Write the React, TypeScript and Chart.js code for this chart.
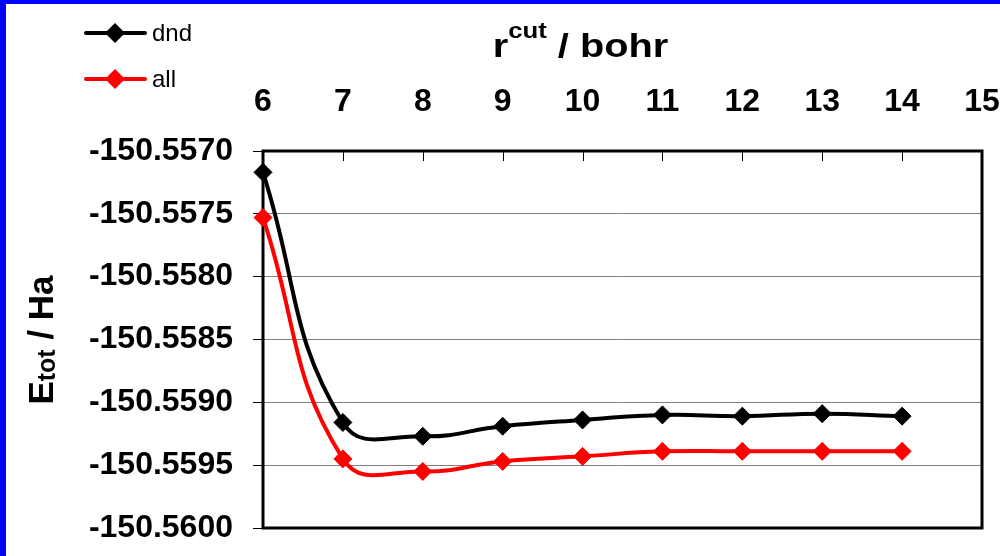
import React, { useEffect, useRef } from 'react';
import { Chart, registerables } from 'chart.js';

Chart.register(...registerables);

// ---- data ----
const rCut = [6, 7, 8, 9, 10, 11, 12, 13, 14];
const dndEnergy = [-150.55717, -150.55916, -150.55927, -150.55919, -150.55914, -150.5591, -150.55911, -150.55909, -150.55911];
const allEnergy = [-150.55753, -150.55945, -150.55955, -150.55947, -150.55943, -150.55939, -150.55939, -150.55939, -150.55939];
const seriesNames = ['dnd', 'all'];
const seriesColors = ['#000000', '#FF0000'];
const xTickValues = [6, 7, 8, 9, 10, 11, 12, 13, 14, 15];
const yTickValues = [-150.56, -150.5595, -150.559, -150.5585, -150.558, -150.5575, -150.557];
const xTitleMain = 'r';
const xTitleSup = 'cut';
const xTitleRest = ' / bohr';
const yTitleMain = 'E';
const yTitleSub = 'tot';
const yTitleRest = ' / Ha';

const FONT = '"Liberation Sans", Arial, Helvetica, sans-serif';

const decorPlugin = {
  id: 'decor',
  beforeDraw(chart: any) {
    const ctx = chart.ctx;
    ctx.save();
    ctx.fillStyle = '#ffffff';
    ctx.fillRect(0, 0, chart.width, chart.height);
    ctx.fillStyle = '#0000FF';
    ctx.fillRect(0, 0, 6, chart.height);
    ctx.fillRect(0, 0, chart.width, 4);
    ctx.restore();
  },
  beforeDatasetsDraw(chart: any) {
    const { ctx, chartArea: a, scales } = chart;
    const xs = scales.x;
    ctx.save();
    ctx.strokeStyle = '#000';
    ctx.lineWidth = 1;
    xs.ticks.forEach((t: any) => {
      if (t.value <= xs.min || t.value >= xs.max) return;
      const px = Math.round(xs.getPixelForValue(t.value)) + 0.5;
      ctx.beginPath();
      ctx.moveTo(px, a.top);
      ctx.lineTo(px, a.top + 10);
      ctx.stroke();
    });
    ctx.lineWidth = 3;
    ctx.strokeRect(a.left, a.top, a.right - a.left, a.bottom - a.top);
    ctx.restore();
  },
  afterDraw(chart: any) {
    const ctx = chart.ctx;
    ctx.save();
    // legend
    const legendY = [33, 79];
    chart.data.datasets.forEach((ds: any, i: number) => {
      const y = legendY[i];
      ctx.strokeStyle = ds.borderColor;
      ctx.lineWidth = 4;
      ctx.lineCap = 'round';
      ctx.beginPath();
      ctx.moveTo(86, y);
      ctx.lineTo(145, y);
      ctx.stroke();
      ctx.fillStyle = ds.borderColor;
      ctx.beginPath();
      ctx.moveTo(115 - 10, y);
      ctx.lineTo(115, y - 10);
      ctx.lineTo(115 + 10, y);
      ctx.lineTo(115, y + 10);
      ctx.closePath();
      ctx.fill();
      ctx.fillStyle = '#000';
      ctx.font = `24px ${FONT}`;
      ctx.textBaseline = 'middle';
      ctx.textAlign = 'left';
      ctx.fillText(ds.label, 152, y + 1);
    });

    // x title with superscript
    ctx.fillStyle = '#000';
    ctx.textBaseline = 'alphabetic';
    ctx.textAlign = 'left';
    const sx = 1.17;
    const mainFont = `bold 34px ${FONT}`;
    const supFont = `bold 22px ${FONT}`;
    ctx.font = mainFont;
    const w1 = ctx.measureText(xTitleMain).width;
    const w3 = ctx.measureText(xTitleRest).width;
    ctx.font = supFont;
    const w2 = ctx.measureText(xTitleSup).width;
    const total = (w1 + w2 + w3) * sx;
    const cx = 580.5;
    ctx.save();
    ctx.translate(cx - total / 2, 57);
    ctx.scale(sx, 1);
    ctx.font = mainFont;
    ctx.fillText(xTitleMain, 0, 0);
    ctx.font = supFont;
    ctx.fillText(xTitleSup, w1, -19);
    ctx.font = mainFont;
    ctx.fillText(xTitleRest, w1 + w2, 0);
    ctx.restore();

    // y title with subscript
    const yMain = `bold 35px ${FONT}`;
    const ySub = `bold 25px ${FONT}`;
    ctx.font = yMain;
    const v1 = ctx.measureText(yTitleMain).width;
    const v3 = ctx.measureText(yTitleRest).width;
    ctx.font = ySub;
    const v2 = ctx.measureText(yTitleSub).width;
    const vt = v1 + v2 + v3;
    ctx.save();
    ctx.translate(53, 340);
    ctx.rotate(-Math.PI / 2);
    ctx.font = yMain;
    ctx.fillText(yTitleMain, -vt / 2, 0);
    ctx.font = ySub;
    ctx.fillText(yTitleSub, -vt / 2 + v1, 2);
    ctx.font = yMain;
    ctx.fillText(yTitleRest, -vt / 2 + v1 + v2, 0);
    ctx.restore();

    ctx.restore();
  },
};

const zeroPad = (s: any) => {
  s.paddingLeft = 0;
  s.paddingRight = 0;
  s.paddingTop = 0;
  s.paddingBottom = 0;
};

export default function App() {
  const ref = useRef<HTMLCanvasElement | null>(null);
  useEffect(() => {
    if (!ref.current) return;
    const mk = (vals: number[]) => rCut.map((x, i) => ({ x, y: vals[i] }));
    const chart = new Chart(ref.current, {
      type: 'line',
      data: {
        datasets: [dndEnergy, allEnergy].map((vals, i) => ({
          label: seriesNames[i],
          data: mk(vals),
          borderColor: seriesColors[i],
          backgroundColor: seriesColors[i],
          pointBackgroundColor: seriesColors[i],
          pointBorderColor: seriesColors[i],
          pointStyle: 'rectRot',
          pointRadius: 9,
          pointBorderWidth: 1,
          borderWidth: 4,
          tension: 0.45,
          fill: false,
          clip: false,
        })),
      },
      options: {
        responsive: false,
        animation: false,
        devicePixelRatio: 1,
        layout: { padding: { left: 0, top: 0, right: 18, bottom: 28 } },
        plugins: { legend: { display: false }, tooltip: { enabled: false }, title: { display: false } },
        scales: {
          x: {
            type: 'linear',
            position: 'top',
            min: 6,
            max: 15,
            afterBuildTicks: (s: any) => {
              s.ticks = xTickValues.map((v) => ({ value: v }));
            },
            afterFit: (s: any) => {
              s.height = 151;
              zeroPad(s);
            },
            grid: { display: false, drawTicks: false },
            border: { display: false },
            ticks: {
              padding: 30,
              color: '#000',
              maxRotation: 0,
              autoSkip: false,
              font: { family: FONT, size: 32, weight: 'bold' },
              callback: (v: any) => String(v),
            },
          },
          y: {
            type: 'linear',
            min: -150.56,
            max: -150.557,
            afterBuildTicks: (s: any) => {
              s.ticks = yTickValues.map((v) => ({ value: v }));
            },
            afterFit: (s: any) => {
              s.width = 263;
              zeroPad(s);
            },
            grid: { color: '#808080', lineWidth: 1, tickColor: '#000', tickLength: 10, drawTicks: true },
            border: { display: false },
            ticks: {
              padding: 20,
              color: '#000',
              autoSkip: false,
              font: { family: FONT, size: 32, weight: 'bold' },
              callback: (v: any) => Number(v).toFixed(4),
            },
          },
        },
      },
      plugins: [decorPlugin],
    } as any);
    return () => chart.destroy();
  }, []);
  return (
    <div style={{ position: 'absolute', left: 0, top: 0, width: 1000, height: 556 }}>
      <canvas ref={ref} width={1000} height={556} style={{ display: 'block' }} />
    </div>
  );
}
